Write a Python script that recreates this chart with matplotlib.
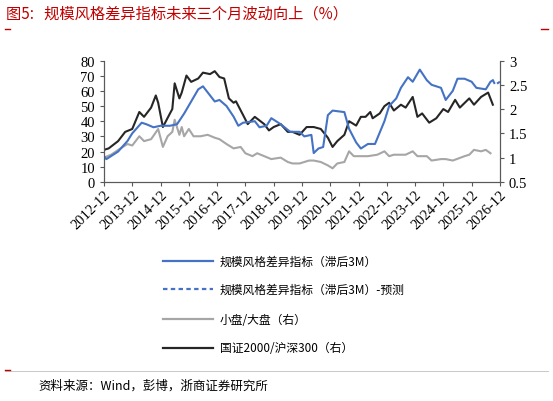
import matplotlib
matplotlib.use("Agg")
import matplotlib.pyplot as plt
from matplotlib.lines import Line2D
import numpy as np

plt.rcParams['font.family'] = ['Liberation Serif', 'Noto Sans CJK SC']

# months since 2012-12
blue_m = [0,1,6,10,12,16,18,21,24,28,31,34,37,40,42,45,47,49,52,55,57,59,64,66,69,71,75,79,83,85,88,89,91,93,95,97,102,104,107,109,112,115,119,121,124,126,129,131,134,137,139,143,145,148,150,153,156,158,162,164,165]
blue_v = [17,15,20,27,32,39,38,36,37,37,38,45,53,61,63,57,53,54,50,43,37,39,40,36,37,42,38,33,33,30,31,19,22,23,44,47,46,35,26,22,25,25,40,50,55,62,69,66,74,67,64,62,54,60,68,68,66,62,61,66,67]
pred_m = [165,166,168]
pred_v = [67,64,66]
black_m = [0,2,6,9,12,15,17,20,22,23,25,28,29,30,32,33,35,37,40,42,45,47,49,51,53,55,56,59,61,64,68,70,72,75,78,80,83,86,89,92,95,97,99,102,104,107,109,111,113,114,117,119,121,123,126,128,131,133,135,138,141,144,146,149,151,155,157,160,162,163,165]
black_v = [1.16,1.19,1.34,1.53,1.59,1.94,1.84,2.03,2.28,2.13,1.63,1.91,2.0,2.53,2.22,2.34,2.69,2.56,2.63,2.75,2.72,2.78,2.66,2.63,2.22,2.13,2.16,1.88,1.69,1.84,1.69,1.56,1.63,1.69,1.53,1.53,1.47,1.63,1.63,1.59,1.41,1.22,1.34,1.47,1.75,1.66,1.84,1.84,1.94,1.81,1.91,2.06,2.13,1.97,2.09,2.03,2.25,1.84,1.91,1.72,1.81,2.0,1.94,2.19,2.03,2.22,2.09,2.25,2.31,2.34,2.09]
gray_m = [0,3,7,10,12,15,17,20,23,25,27,29,30,32,33,34,36,38,41,44,47,49,52,55,58,60,63,65,68,71,75,78,80,83,87,89,92,95,97,99,102,104,106,112,116,119,121,123,128,131,133,137,139,143,145,148,153,155,157,160,162,164]
gray_v = [1.0,1.06,1.19,1.28,1.25,1.44,1.34,1.38,1.59,1.22,1.44,1.53,1.78,1.47,1.63,1.44,1.59,1.44,1.44,1.47,1.41,1.38,1.28,1.19,1.22,1.09,1.03,1.09,1.03,0.97,1.0,0.91,0.88,0.88,0.94,0.94,0.91,0.84,0.78,0.88,0.91,1.13,1.03,1.03,1.06,1.13,1.03,1.06,1.06,1.13,1.03,1.03,0.94,0.97,0.97,0.94,1.03,1.06,1.16,1.13,1.16,1.09]
xlabels = [f"{y}-12" for y in range(2012, 2027)]
labels = ["规模风格差异指标（滞后3M）", "规模风格差异指标（滞后3M）-预测", "小盘/大盘（右）", "国证2000/沪深300（右）"]

BLUE = "#4472c4"; GRAY = "#a6a6a6"; BLACK = "#262626"; RED = "#c00000"
fig = plt.figure(figsize=(5.53, 4.02), dpi=100)
ax = fig.add_axes([0.188, 0.545, 0.716, 0.302])
ax2 = ax.twinx()
ax2.plot(gray_m, gray_v, color=GRAY, lw=1.5)
ax2.plot(black_m, black_v, color=BLACK, lw=1.5)
ax.plot(blue_m, blue_v, color=BLUE, lw=1.5)
ax.plot(pred_m, pred_v, color=BLUE, lw=1.5, ls=(0, (2, 1.5)))
ax.set_zorder(ax2.get_zorder() + 1); ax.patch.set_visible(False)
ax.set_xlim(0, 168); ax.set_ylim(0, 80); ax2.set_ylim(0.5, 3)
ax.set_xticks(range(0, 169, 12)); ax.set_xticklabels(xlabels, rotation=45, ha='right', rotation_mode='anchor', fontsize=10.5)
ax.set_yticks(range(0, 81, 10)); ax2.set_yticks([0.5, 1, 1.5, 2, 2.5, 3]); ax2.set_yticklabels(["0.5", "1", "1.5", "2", "2.5", "3"])
for a in (ax, ax2):
    a.tick_params(axis='y', labelsize=10.5)
    a.tick_params(length=3, width=0.8, direction='out', color='#595959')
    a.spines['top'].set_visible(False)
    for s in ('left', 'right', 'bottom'):
        a.spines[s].set_color('#595959')
ax.tick_params(axis='x', pad=1)

cjk = ['Noto Sans CJK SC', 'DejaVu Sans']
fig.text(0.011, 0.965, "图5:   规模风格差异指标未来三个月波动向上（%）", color=RED, fontsize=11, family=cjk, va='center')
fig.add_artist(Line2D([0.009, 0.018], [0.925, 0.925], color=RED, lw=1))
fig.add_artist(Line2D([0.978, 0.991], [0.925, 0.925], color=RED, lw=1))
fig.add_artist(Line2D([0.009, 0.991], [0.075, 0.075], color='#bfbfbf', lw=0.6))
fig.add_artist(Line2D([0.009, 0.018], [0.078, 0.078], color=RED, lw=1))
fig.text(0.07, 0.04, "资料来源：Wind，彭博，浙商证券研究所", fontsize=9, family=cjk, va='center')

styles = [dict(color=BLUE), dict(color=BLUE, ls=(0, (2, 1.5))), dict(color=GRAY), dict(color=BLACK)]
ys = [262, 290, 320, 349]
for lab, st, y in zip(labels, styles, ys):
    yf = 1 - y / 402
    fig.add_artist(Line2D([0.295, 0.385], [yf, yf], lw=1.6, **st))
    fig.text(0.397, yf, lab, fontsize=8.5, family=cjk, va='center')

fig.savefig("out.png", dpi=100)
